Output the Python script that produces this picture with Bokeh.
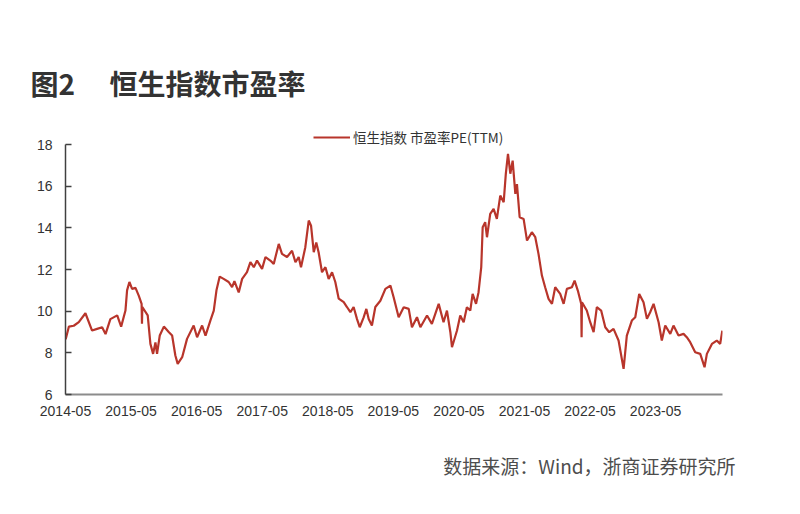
import pandas as pd
from bokeh.plotting import figure
from bokeh.models import (Legend, LegendItem, FixedTicker, DatetimeTickFormatter,
                          Range1d, ColumnDataSource, Title)
from bokeh.core.properties import value
from bokeh.embed import file_html
from bokeh.resources import INLINE

# ---- data ----
dates = [
    "2014-05-02", "2014-05-20", "2014-06-16", "2014-07-14", "2014-08-20", "2014-09-26",
    "2014-10-24", "2014-11-21", "2014-12-10", "2015-01-06", "2015-02-13", "2015-03-07",
    "2015-03-31", "2015-04-09", "2015-04-22", "2015-05-07", "2015-05-26", "2015-06-13",
    "2015-06-29", "2015-07-01", "2015-07-03", "2015-08-02", "2015-08-17", "2015-09-01",
    "2015-09-14", "2015-09-23", "2015-10-08", "2015-10-31", "2015-11-27", "2015-12-16",
    "2016-01-03", "2016-01-16", "2016-02-10", "2016-03-08", "2016-04-14", "2016-05-03",
    "2016-05-31", "2016-06-19", "2016-07-16", "2016-08-04", "2016-08-19", "2016-09-06",
    "2016-09-28", "2016-10-26", "2016-11-14", "2016-11-27", "2016-12-21", "2017-01-09",
    "2017-02-05", "2017-02-24", "2017-03-15", "2017-04-02", "2017-04-30", "2017-05-19",
    "2017-06-15", "2017-07-04", "2017-08-01", "2017-08-19", "2017-09-16", "2017-10-14",
    "2017-11-02", "2017-11-20", "2017-12-03", "2017-12-27", "2018-01-15", "2018-01-28",
    "2018-02-12", "2018-02-26", "2018-03-11", "2018-03-30", "2018-04-18", "2018-05-06",
    "2018-05-25", "2018-06-12", "2018-07-01", "2018-07-29", "2018-08-16", "2018-09-04",
    "2018-09-22", "2018-10-11", "2018-10-26", "2018-11-17", "2018-12-02", "2018-12-15",
    "2019-01-02", "2019-01-21", "2019-02-18", "2019-03-18", "2019-04-15", "2019-05-03",
    "2019-05-31", "2019-06-28", "2019-07-26", "2019-08-13", "2019-09-10", "2019-09-29",
    "2019-11-05", "2019-12-02", "2020-01-09", "2020-02-05", "2020-02-24", "2020-03-14",
    "2020-03-23", "2020-04-20", "2020-05-08", "2020-05-27", "2020-06-14", "2020-07-03",
    "2020-07-16", "2020-08-04", "2020-08-18", "2020-09-02", "2020-09-10", "2020-09-24",
    "2020-10-04", "2020-10-22", "2020-11-10", "2020-11-28", "2020-12-17", "2021-01-05",
    "2021-01-17", "2021-01-29", "2021-02-11", "2021-02-24", "2021-03-11", "2021-03-20",
    "2021-04-04", "2021-04-26", "2021-05-15", "2021-06-11", "2021-06-30", "2021-07-18",
    "2021-08-06", "2021-08-24", "2021-09-12", "2021-10-01", "2021-10-19", "2021-11-16",
    "2021-12-05", "2021-12-23", "2022-01-20", "2022-02-04", "2022-02-22", "2022-03-13",
    "2022-03-15", "2022-03-17", "2022-04-13", "2022-05-02", "2022-05-21", "2022-06-08",
    "2022-07-02", "2022-07-25", "2022-08-16", "2022-09-09", "2022-10-07", "2022-11-04",
    "2022-11-22", "2022-12-20", "2023-01-08", "2023-01-30", "2023-02-23", "2023-03-14",
    "2023-04-01", "2023-04-20", "2023-05-18", "2023-06-05", "2023-06-24", "2023-07-22",
    "2023-08-09", "2023-09-06", "2023-10-04", "2023-10-22", "2023-11-10", "2023-12-08",
    "2024-01-05", "2024-01-29", "2024-02-11", "2024-03-10", "2024-04-06", "2024-04-25",
    "2024-05-07",
]
pe = [
    8.65, 9.26, 9.30, 9.47, 9.90, 9.07,
    9.15, 9.23, 8.90, 9.62, 9.80, 9.26,
    10.03, 11.00, 11.40, 11.07, 11.12, 10.75,
    10.35, 9.40, 10.20, 9.80, 8.43, 7.95,
    8.50, 7.95, 8.83, 9.26, 9.00, 8.83,
    7.87, 7.47, 7.79, 8.67, 9.31, 8.75,
    9.31, 8.83, 9.55, 10.03, 11.00, 11.66,
    11.55, 11.40, 11.15, 11.44, 10.90, 11.55,
    11.87, 12.35, 12.11, 12.43, 12.03, 12.60,
    12.43, 12.27, 13.23, 12.75, 12.60, 12.90,
    12.35, 12.60, 12.11, 13.07, 14.35, 14.10,
    12.83, 13.30, 12.83, 11.87, 12.11, 11.55,
    11.87, 11.40, 10.60, 10.43, 10.20, 9.95,
    10.20, 9.62, 9.23, 9.70, 10.11, 9.62,
    9.31, 10.20, 10.50, 11.07, 11.23, 10.67,
    9.71, 10.19, 10.11, 9.23, 9.71, 9.23,
    9.79, 9.39, 10.35, 9.47, 10.03, 8.99,
    8.27, 9.07, 9.79, 9.47, 10.19, 10.03,
    10.83, 10.35, 10.91, 12.11, 14.03, 14.27,
    13.55, 14.67, 14.91, 14.43, 15.55, 15.23,
    16.60, 17.55, 16.60, 17.23, 15.63, 16.10,
    14.51, 14.43, 13.39, 13.79, 13.55, 12.75,
    11.71, 11.15, 10.59, 10.35, 11.15, 10.83,
    10.35, 11.07, 11.15, 11.47, 10.99, 10.35,
    8.75, 10.43, 10.03, 9.47, 8.99, 10.19,
    10.03, 9.23, 8.99, 9.15, 8.59, 7.23,
    8.83, 9.55, 9.71, 10.83, 10.43, 9.63,
    9.95, 10.35, 9.47, 8.59, 9.31, 8.91,
    9.31, 8.83, 8.91, 8.75, 8.51, 8.03,
    7.95, 7.31, 7.95, 8.43, 8.59, 8.43,
    9.07,
]
x_tick_months = ["2014-05", "2015-05", "2016-05", "2017-05", "2018-05",
                 "2019-05", "2020-05", "2021-05", "2022-05", "2023-05"]
y_ticks = [6, 8, 10, 12, 14, 16, 18]
series_name = "恒生指数 市盈率PE(TTM)"
title_text = "图2\u3000 恒生指数市盈率"
source_text = "数据来源：Wind，浙商证券研究所"

# ---- figure ----
xs = pd.to_datetime(dates)
src = ColumnDataSource(dict(x=xs, y=pe))
x_start = pd.Timestamp("2014-05-01")
x_end = pd.Timestamp("2024-05-08")

p = figure(frame_width=657, frame_height=287,
           min_border_left=65, min_border_right=78,
           min_border_top=107, min_border_bottom=120,
           x_axis_type="datetime",
           x_range=Range1d(x_start, x_end), y_range=Range1d(6, 19.778),
           output_backend="svg", toolbar_location=None)
p.grid.visible = False
p.outline_line_color = None
p.background_fill_color = "white"
p.border_fill_color = "white"

r = p.line("x", "y", source=src, line_color="#B8352B", line_width=2.2)

# axes
tick_ms = [pd.Timestamp(m + "-01").value / 1e6 for m in x_tick_months]
p.xaxis.ticker = FixedTicker(ticks=tick_ms)
p.xaxis.formatter = DatetimeTickFormatter(years="%Y-%m", months="%Y-%m", days="%Y-%m")
p.xaxis.major_tick_in = 0
p.xaxis.major_tick_out = 0
p.xaxis.minor_tick_in = 0
p.xaxis.minor_tick_out = 0
p.xaxis.axis_line_color = "#8c8c8c"
p.xaxis.axis_line_width = 2
p.xaxis.major_label_standoff = 11
p.xaxis.major_label_text_font = "Liberation Sans"
p.xaxis.major_label_text_font_size = "14px"
p.xaxis.major_label_text_color = "#333333"

p.yaxis.ticker = FixedTicker(ticks=y_ticks)
p.yaxis.bounds = (6, 18)
p.yaxis.major_tick_in = 6
p.yaxis.major_tick_out = 0
p.yaxis.minor_tick_in = 0
p.yaxis.minor_tick_out = 0
p.yaxis.axis_line_color = "#404040"
p.yaxis.axis_line_width = 1.5
p.yaxis.major_tick_line_color = "#404040"
p.yaxis.major_tick_line_width = 1.5
p.yaxis.major_label_standoff = 13
p.yaxis.major_label_text_font = "Liberation Sans"
p.yaxis.major_label_text_font_size = "14px"
p.yaxis.major_label_text_color = "#333333"

# legend
legend = Legend(items=[LegendItem(label=value(series_name), renderers=[r])],
                location=(248, 247), orientation="horizontal",
                glyph_width=37, glyph_height=14, label_height=14,
                label_standoff=3, padding=0, margin=0, spacing=0,
                border_line_alpha=0, background_fill_alpha=0,
                label_text_font="Noto Sans CJK SC", label_text_font_size="13.5px",
                label_text_color="#333333", label_text_baseline="middle")
p.add_layout(legend)

# title & source
p.add_layout(Title(text=title_text, align="left", offset=-35, standoff=10,
                   text_font="Noto Sans CJK SC", text_font_style="bold",
                   text_font_size="28px", text_color="#333333"), "above")
p.add_layout(Title(text=source_text, align="right", offset=-13, standoff=66,
                   vertical_align="top",
                   text_font="Noto Sans CJK SC", text_font_style="normal",
                   text_font_size="19px", text_color="#4d4d4d"), "below")

open("out.html", "w").write(file_html(p, INLINE))
